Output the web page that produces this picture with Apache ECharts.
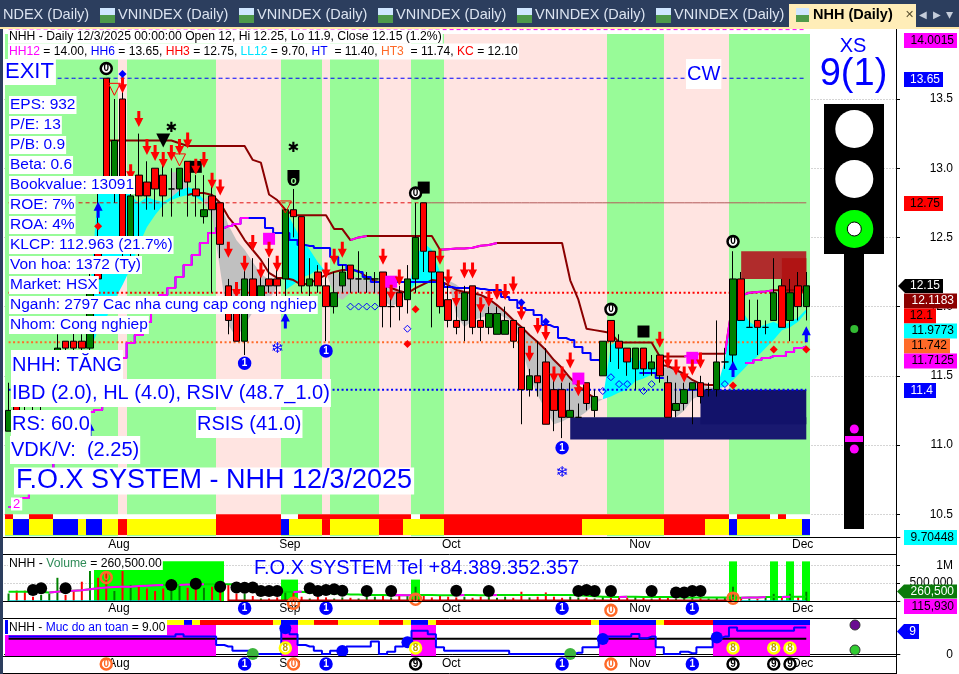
<!DOCTYPE html>
<html><head><meta charset="utf-8">
<style>html,body{margin:0;padding:0;background:#fff}#c{width:959px;height:674px}</style>
<script src="https://cdn.jsdelivr.net/npm/echarts@6/dist/echarts.min.js"></script>
</head><body><div id="c"></div>
<script>
const categories = ("07-16 07-17 07-18 07-21 07-22 07-23 07-24 07-25 07-28 07-29 07-30 07-31 08-01 08-04 08-05 08-06 08-07 08-08 08-11 08-12 08-13 08-14 08-15 08-18 08-19 08-20 08-21 08-22 08-25 08-26 08-27 08-28 08-29 09-03 09-04 09-05 09-08 09-09 09-10 09-11 09-12 09-15 09-16 09-17 09-18 09-19 09-22 09-23 09-24 09-25 09-26 09-29 09-30 10-01 10-02 10-03 10-06 10-07 10-08 10-09 10-10 10-13 10-14 10-15 10-16 10-17 10-20 10-21 10-22 10-23 10-24 10-27 10-28 10-29 10-30 10-31 11-03 11-04 11-05 11-06 11-07 11-10 11-11 11-12 11-13 11-14 11-17 11-18 11-19 11-20 11-21 11-24 11-25 11-26 11-27 11-28 12-01 12-02 12-03").split(" ");
const monthStarts = [12,33,53,76,96];
const monthLabels = ['Aug','Sep','Oct','Nov','Dec'];
const opens  = [11.1,11.3,11.35,11.35,11.3,11.4,11.65,11.75,11.75,11.75,11.7,12.4,13.65,12.85,13.5,12.45,12.95,12.9,13.0,12.95,12.85,12.85,13.05,12.85,12.65,12.8,12.75,12.15,12.0,11.75,12.2,12.05,12.2,12.2,12.2,12.7,12.65,12.15,12.25,12.15,12.0,12.15,12.3,12.2,12.2,12.2,12.25,12.0,12.1,12.05,12.2,12.75,12.4,12.25,12.05,11.9,11.9,12.15,11.9,11.85,11.8,11.8,11.9,11.85,11.4,11.5,11.6,11.4,11.4,11.2,11.2,11.45,11.25,11.5,11.9,11.75,11.7,11.55,11.7,11.55,11.65,11.45,11.25,11.3,11.4,11.45,11.4,11.4,11.6,11.65,12.2,11.85,11.9,11.85,11.9,12.15,11.9,12.15,12.0];
const closes = [11.25,11.25,11.3,11.3,11.4,11.5,11.7,11.7,11.7,11.7,12.15,12.2,12.9,13.2,12.4,12.8,12.8,12.8,12.85,12.8,12.85,13.0,12.9,12.8,12.7,12.7,12.45,11.9,11.75,12.2,12.05,12.15,12.15,12.15,12.7,12.65,12.15,12.2,12.15,12.0,12.1,12.25,12.2,12.2,12.2,12.2,12.0,12.0,12.0,12.2,12.5,12.4,12.25,12.0,11.9,11.85,12.1,11.85,11.85,11.95,11.95,11.9,11.75,11.4,11.5,11.45,11.15,11.25,11.2,11.25,11.2,11.3,11.35,11.75,11.75,11.7,11.6,11.7,11.55,11.6,11.5,11.2,11.3,11.4,11.45,11.35,11.4,11.6,11.6,12.2,11.9,11.85,11.85,11.85,12.1,11.85,12.1,12.0,12.15];
const lows   = [11.1,11.2,11.2,11.25,11.25,11.4,11.65,11.65,11.6,11.6,11.65,12.1,12.85,12.75,12.35,12.35,12.3,12.7,12.7,12.65,12.65,12.8,12.65,12.65,12.6,12.1,12.35,11.8,11.75,11.65,12.0,12.0,12.1,12.05,11.95,12.5,12.1,12.05,12.1,11.75,11.95,12.1,12.1,12.1,12.1,12.1,11.85,11.85,11.9,11.95,12.1,12.25,11.85,11.95,11.85,11.8,11.75,11.8,11.75,11.8,11.8,11.8,11.7,11.15,11.35,11.35,11.15,11.1,11.05,11.2,11.2,11.25,11.2,11.5,11.6,11.55,11.5,11.4,11.5,11.5,11.45,11.2,11.2,11.25,11.15,11.3,11.35,11.35,11.55,11.55,11.9,11.85,11.65,11.8,11.9,11.85,11.75,11.9,11.9];
const highs  = [11.45,11.4,11.45,11.45,11.45,11.6,11.8,11.75,11.85,11.8,12.3,12.85,13.65,13.5,13.6,12.9,13.25,13.05,13.0,13.05,13.0,13.0,13.05,12.95,12.95,12.9,12.75,12.2,12.1,12.3,12.35,12.3,12.35,12.3,12.7,12.85,12.65,12.35,12.3,12.25,12.25,12.3,12.3,12.4,12.25,12.25,12.25,12.1,12.15,12.3,12.75,12.75,12.4,12.25,12.15,12.05,12.15,12.15,12.05,12.0,12.0,12.0,11.9,11.85,11.55,11.75,11.7,11.5,11.45,11.45,11.3,11.45,11.4,11.75,11.9,11.8,11.7,11.7,11.7,11.65,11.65,11.5,11.45,11.45,11.45,11.5,11.45,11.9,11.7,12.4,12.25,12.05,12.05,11.9,12.35,12.2,12.2,12.25,12.25];

const upperTrail = [null,null,null,null,null,null,null,null,null,null,null,null,13.2,13.2,13.2,13.2,13.2,13.2,13.2,13.2,13.2,13.18,13.16,13.16,13.16,13.16,13.16,13.16,13.16,13.16,13.06,13.04,12.81,12.77,12.7,12.66,12.66,12.66,12.66,12.66,12.56,12.56,12.48,12.5,12.51,12.51,12.51,12.51,12.51,12.51,12.51,12.51,12.51,12.41,12.415,12.42,12.42,12.425,12.44,12.445,12.46,12.46,12.46,12.46,12.46,12.46,12.46,12.46,12.46,12.19,12.05,11.84,11.83,11.82,11.81,11.74,11.74,11.74,11.74,11.74,11.64,11.64,11.64,11.64,11.65,11.66,11.66,11.66,11.66,12.05,12.08,12.1,12.105,12.11,12.118,12.118,12.118,12.118,12.118];
const lowerTrail = [null,null,null,null,null,null,null,null,null,null,null,null,null,null,null,null,null,null,null,null,null,null,12.806,12.821,12.821,12.806,12.749,12.647,12.575,12.481,12.409,12.337,12.243,12.207,12.207,12.192,12.156,12.17,12.2,12.23,12.25,12.264,12.264,12.257,12.214,12.185,12.17,12.134,12.113,12.098,12.134,12.163,12.192,12.185,12.156,12.12,12.105,12.098,12.084,12.055,12.011,11.961,11.903,11.853,11.795,11.744,11.686,11.614,11.556,11.484,11.426,11.376,11.34,null,null,null,null,null,null,null,11.578,11.571,11.542,11.513,11.47,11.441,11.433,11.433,null,null,null,null,null,null,null,null,null,null,null];
const stepTrail = [10.552,10.581,10.617,10.675,10.733,10.805,10.87,10.95,11.036,11.13,11.238,11.253,11.361,11.506,11.629,11.737,11.795,11.889,11.975,12.084,12.134,12.214,12.3,12.373,12.46,12.532,12.568,12.582,12.597,12.64,12.64,12.64,12.568,12.532,12.532,12.481,12.445,12.438,12.423,12.423,12.358,12.3,12.264,12.25,12.214,12.178,12.178,12.178,12.178,12.178,12.178,12.178,12.178,12.17,12.142,12.134,12.134,12.134,12.127,12.12,12.12,12.07,12.048,11.99,11.975,11.94,11.867,11.853,11.773,11.759,11.708,11.665,11.614,11.6,null,null,null,null,11.52,11.52,11.484,null,null,null,11.4,11.4,null,null,null,null,null,11.592,11.614,11.629,11.643,11.643,11.672,11.7,11.7125];
const fillHi = [null,null,null,null,null,null,null,null,null,null,12.098,12.843,12.929,12.929,12.929,12.806,12.749,12.792,12.77,12.756,12.792,12.843,12.864,12.843,12.77,12.821,12.749,12.59,12.48,12.41,12.32,12.24,12.19,12.17,12.7,12.59,12.48,12.41,12.32,12.25,12.24,12.24,12.22,12.21,12.19,12.18,12.17,12.16,12.12,12.1,12.35,12.46,12.41,12.25,12.19,12.16,12.11,12.1,12.08,12.05,12.01,11.96,11.9,11.85,11.79,11.74,11.69,11.61,11.56,11.48,11.43,11.38,11.34,11.33,11.72,11.76,11.65,11.61,11.61,11.58,11.54,11.57,11.54,11.51,11.47,11.44,11.42,11.41,11.61,12.01,11.98,11.89,11.85,11.87,11.89,11.86,11.89,11.92,11.98];
const fillLo = [null,null,null,null,null,null,null,null,null,null,11.686,11.831,11.918,12.048,12.156,12.279,12.445,12.575,12.662,12.734,12.77,12.792,12.806,12.792,12.75,12.662,12.264,11.867,11.773,11.867,11.96,12.01,12.05,12.14,12.12,12.16,12.21,12.23,12.27,12.25,12.08,12.05,12.1,12.1,12.1,12.1,12.05,12.0,12.03,12.1,12.17,12.18,12.19,12.19,12.19,11.94,11.85,11.9,11.92,11.94,11.95,11.92,11.89,11.72,11.5,11.36,11.25,11.15,11.17,11.2,11.2,11.24,11.3,11.33,11.35,11.38,11.4,11.46,11.48,11.51,11.53,11.4,11.2,11.25,11.33,11.36,11.38,11.41,11.42,11.47,11.53,11.59,11.64,11.7,11.76,11.83,11.85,11.89,11.96];
const fillRuns = [[10,24,'c'],[24,33,'g'],[34,39,'c'],[39,49,'g'],[49,54,'c'],[54,73,'g'],[73,80,'c'],[80,87,'g'],[87,98,'c']];
const wedgeIdx = [20,21,22]; const wedgeHi = [12.97,12.97,12.88]; const wedgeLo = [12.79,12.84,12.86];

const zoneRuns = [[0,14,'g'],[14,15,'p'],[15,26,'g'],[26,34,'p'],[34,39,'g'],[39,40,'p'],[40,46,'g'],[46,50,'p'],[50,54,'g'],[54,74,'p'],[74,81,'g'],[81,89,'p'],[89,99,'g']];
const stripBaseRuns = [[0,99]];
const stripTopRuns = [[0,1,'r'],[3,6,'r'],[26,34,'r'],[36,50,'r'],[51,89,'r'],[90,94,'r'],[95,96,'r']];
const stripMainRuns = [[0,1,'y'],[1,3,'b'],[3,6,'y'],[6,9,'b'],[9,10,'y'],[10,12,'b'],[12,14,'y'],[14,15,'r'],[15,26,'y'],[26,34,'r'],[34,35,'b'],[35,39,'y'],[39,40,'r'],[40,46,'y'],[46,49,'r'],[49,54,'y'],[54,71,'r'],[71,81,'y'],[81,86,'r'],[86,89,'y'],[89,90,'b'],[90,98,'y'],[98,99,'b']];
const safetyStripRuns = [[20,22,'y'],[22,23,'b'],[23,24,'y'],[24,33,'r'],[33,34,'y'],[34,36,'b'],[36,38,'y'],[38,41,'r'],[41,46,'y'],[46,49,'r'],[49,50,'y'],[50,52,'b'],[52,53,'y'],[53,72,'r'],[72,73,'y'],[73,80,'b'],[80,81,'y'],[81,87,'r'],[87,99,'b']];
const safetyZoneRuns = [[0,20,7.4],[20,26,11.3],[34,36,11.3],[50,53,11.3],[73,80,11.3],[87,99,11.3]];
const volZoneRuns = [[11,27,1110000],[34,36,600000],[50,51,600000],[89,90,1110000],[94,95,1110000],[96,97,1110000],[98,99,1110000]];

const boxFrom = [69,85,90,95]; const boxTo = [98,98,98,98];
const boxHigh = [11.2,11.4,12.4,12.35]; const boxLow = [11.04,11.15,12.2,12.1];
const boxColors = ['#191970','#12126a','#b02c2c','#b01414'];

const levelValues = [14.0015,13.65,12.75,12.75,12.1,11.742,11.4];
const levelFrom   = [0,0,0,51,0,0,0];
const levelTo     = [98,98,51,98,98,98,98];
const levelColors = ['#ff00ff','#0000ff','#e01010','#b25a5a','#ff0000','#ff6a28','#0000ff'];

const downIdx = [14,16,17,18,19,20,21,22,23,24,25,26,15,27,29,30,31,32,33,28,39,40,41,46,47,48,53,54,55,56,57,58,59,60,61,62,63,64,65,66,67,68,69,70,80,81,82,83,84,85];
const downVal = [13.6,13.355,13.153,13.11,13.06,13.11,13.153,13.2,13.01,13.06,12.91,12.86,12.97,12.41,12.31,12.46,12.26,12.41,12.31,12.12,12.26,12.36,12.41,12.36,12.1,12.21,12.36,12.21,12.055,12.26,12.26,12.01,12.055,12.105,12.105,12.16,11.96,11.66,11.86,11.81,11.51,11.51,11.61,11.41,11.76,11.61,11.56,11.51,11.56,11.61];
const upIdx = [11,34,89,98,10]; const upVal = [12.7,11.9,11.55,11.8,11.11];
const redDotIdx = [11,50,49,89,94,98]; const redDotVal = [12.58,11.98,11.73,11.43,11.69,11.69];
const openIdx = [42,43,44,45,49,73,74,75,76,78,79,88]; const openVal = [12,12,12,12,11.84,11.39,11.49,11.44,11.44,11.39,11.44,11.44];
const blueDotIdx = [14,63,66]; const blueDotVal = [13.68,12.03,11.89];
const pinkSqIdx = [32,47,70,84]; const pinkSqVal = [12.49,12.18,11.48,11.63];
const blackSqIdx = [23,51,78]; const blackSqVal = [13.01,12.86,11.82];
const outTriIdx = [13,21,34]; const outTriVal = [13.57,13.06,12.72];
const starIdx = [20,35]; const starVal = [13.29,13.14];
const ring0Idx = [12,50,74,89]; const ring0Val = [13.72,12.82,11.98,12.47];
const blue1Idx = [29,39,68]; const blue1Val = [11.59,11.68,10.98];
const snowIdx = [33,68]; const snowVal = [11.69,10.8];

const volumes = [210000,290000,290000,120000,170000,210000,650000,170000,310000,540000,840000,650000,820000,280000,840000,450000,420000,350000,280000,350000,400000,450000,370000,450000,370000,400000,450000,450000,210000,210000,140000,70000,70000,100000,260000,260000,120000,70000,120000,100000,70000,100000,90000,70000,170000,120000,140000,100000,140000,170000,400000,170000,100000,140000,120000,100000,120000,90000,120000,110000,90000,120000,90000,260000,100000,120000,240000,120000,90000,120000,100000,90000,70000,120000,100000,110000,90000,130000,100000,70000,110000,90000,70000,120000,100000,80000,70000,90000,110000,400000,90000,70000,60000,90000,200000,100000,200000,110000,260500];
const volAverage = [260000,260000,260000,260000,250000,240000,260000,280000,290000,300000,330000,360000,380000,390000,400000,400000,420000,430000,440000,450000,450000,450000,460000,460000,470000,470000,470000,470000,460000,420000,380000,330000,290000,260000,260000,250000,260000,240000,240000,220000,220000,200000,180000,180000,170000,170000,170000,160000,170000,160000,170000,170000,170000,160000,160000,160000,170000,170000,160000,160000,170000,170000,170000,170000,170000,170000,170000,170000,170000,170000,160000,150000,130000,120000,110000,110000,120000,120000,110000,110000,110000,110000,110000,100000,100000,100000,100000,100000,100000,90000,90000,100000,100000,110000,110000,110000,120000,116000,115930];
const volDotIdx = [3,4,7,20,23,26,28,29,30,31,32,33,37,38,39,40,41,44,47,55,59,70,71,72,74,79,82,83,84,85];
const volDotVal = [310000,360000,360000,450000,480000,400000,380000,370000,380000,280000,280000,280000,360000,280000,310000,330000,290000,280000,280000,290000,280000,280000,310000,280000,280000,280000,240000,240000,280000,280000];
const volBlue1Idx = [29,39,68,84];
const volOrangeIdx = [12,50,89,35,74]; const volOrangeVal = [660000,50000,80000,-65000,-260000];

const safety = [6.8,6.8,6.8,6.8,6.8,6.8,6.8,6.8,6.8,6.8,6.8,6.8,6.8,6.8,6.8,6.8,6.8,6.8,6.8,6.8,6.8,7.7,6.8,6.8,6.8,6.8,3.6,3,1.4,1.4,0.1,0.1,0.1,0.1,9.4,7.7,3.6,3,1.4,0.1,1.4,1.4,3,3,3,4.9,0.1,1,3,4.6,9.1,9.1,7.7,2.7,1.4,1.4,1.4,1.4,1.4,1.4,1.4,1.4,0.1,0.1,0.1,0.1,0.1,0.1,0.1,0.1,0.6,2.7,2.7,6.8,6.8,6.8,6.8,7.8,6.2,6.8,2.7,0.1,0.1,1,0.4,2.7,2.7,6.2,6.8,10.3,9.1,9.1,9.1,9.1,9.1,9.1,9.1,10.3,10.3];
const safetyMid = 6;
const safeBlueIdx = [34,41,49,73,87]; const safeBlueVal = [10,1.3,4.6,5.9,6.5];
const safeGreenIdx = [30,69]; const safeGreenVal = [0.1,0.1];
const safe9Idx = [50,89,94,96];
const safe8Idx = [34,50,89,94,96];
const safe0Idx = [12,35,74];
const safe1Idx = [29,39,68,84];

const infoLabels = ['EPS: 932','P/E: 13','P/B: 0.9','Beta: 0.6','Bookvalue: 13091','ROE: 7%','ROA: 4%','KLCP: 112.963 (21.7%)','Von hoa: 1372 (Ty)','Market: HSX','Nganh: 2797 Cac nha cung cap cong nghiep','Nhom: Cong nghiep'];

const FONT = '"Liberation Sans", Arial, sans-serif';
const C = {g:'#98fb98', p:'#ffe4e1', r:'#ff0000', y:'#ffff00', b:'#0000ff', c:'#00ffff', h:'#c0c0c0'};
const N = 110;
const xData = categories.concat(Array(N-categories.length).fill(''));

function runRects(name, runs, yTop, yBot, color, gi, z){
  return {name, type:'custom', xAxisIndex:gi, yAxisIndex:gi, z, silent:true,
    data:runs.map(r=>[r[0], yTop]), encode:{x:0,y:1},
    renderItem(p, api){
      const r=runs[p.dataIndex], w=api.size([1,0])[0];
      const top = typeof r[2]==='number' ? r[2] : yTop;
      const a=api.coord([r[0],top]), b=api.coord([r[1],yBot]);
      const x0=Math.round(a[0]-w/2), x1=Math.round(b[0]-w/2);
      return {type:'rect', shape:{x:x0,y:a[1],width:x1-x0,height:b[1]-a[1]}, style:{fill: typeof color==='string'?color:C[r[2]]}};
    }};
}
function fillSeries(){
  return {name:'fill', type:'custom', z:2, silent:true,
    data:fillRuns.map(r=>[r[0], fillHi[r[0]]]), encode:{x:0,y:1},
    renderItem(p, api){
      const r=fillRuns[p.dataIndex], pts=[];
      for(let i=r[0];i<=r[1];i++) pts.push(api.coord([i,fillHi[i]]));
      for(let i=r[1];i>=r[0];i--) pts.push(api.coord([i,fillLo[i]]));
      return {type:'polygon', shape:{points:pts}, style:{fill:r[2]==='c'?C.c:C.h}};
    }};
}
function wedgeSeries(){
  return {name:'wedge', type:'custom', z:2, silent:true, data:[[wedgeIdx[0],wedgeHi[0]]], encode:{x:0,y:1},
    renderItem(p, api){
      const pts=wedgeIdx.map((i,k)=>api.coord([i,wedgeHi[k]])).concat(wedgeIdx.map((i,k)=>api.coord([i,wedgeLo[k]])).reverse());
      return {type:'polygon', shape:{points:pts}, style:{fill:C.h}};
    }};
}
function boxSeries(){
  return {name:'boxes', type:'custom', z:3, silent:true, data:boxFrom.map((f,k)=>[f,boxHigh[k]]), encode:{x:0,y:1},
    renderItem(p, api){
      const k=p.dataIndex, a=api.coord([boxFrom[k],boxHigh[k]]), b=api.coord([boxTo[k],boxLow[k]]);
      return {type:'rect', shape:{x:a[0],y:a[1],width:b[0]-a[0],height:b[1]-a[1]}, style:{fill:boxColors[k]}};
    }};
}
function levelSeries(k){
  const d=categories.map((_,i)=>(i>=levelFrom[k]&&i<=levelTo[k])?levelValues[k]:null);
  const solid=k===3, heavy=k>=4;
  return {name:'level'+k, type:'line', data:d, symbol:'none', z:4, silent:true,
    lineStyle:{color:levelColors[k], width:heavy?2:1, type:solid?'solid':(heavy?[2,2.5]:[4,3])}};
}
function riseOnly(v){ return v.map((x,i)=>{
  if(x==null) return null;
  const r=i>0&&v[i-1]!=null&&x>v[i-1], n=i<v.length-1&&v[i+1]!=null&&v[i+1]>x;
  return (r||n)?x:null; }); }
function lineS(name,data,color,gi,z,extra){
  return Object.assign({name, type:'line', data, symbol:'none', xAxisIndex:gi, yAxisIndex:gi, z, silent:true, lineStyle:{color, width:2}},extra||{});
}
function sc(name, idx, vals, symbol, size, style, gi, z, extra){
  return Object.assign({name, type:'scatter', clip:false, silent:true, xAxisIndex:gi||0, yAxisIndex:gi||0, z:z||8, symbol, symbolSize:size,
    data:idx.map((i,k)=>[i,vals[k]]), itemStyle:Object.assign({opacity:1},style)}, extra||{});
}
function badge(name, idx, vals, txt, fill, border, txtColor, gi, z){
  return sc(name, idx, vals, 'circle', 11, {color:fill, borderColor:border, borderWidth:2.5}, gi, z||9,
    {label:{show:true, position:'inside', formatter:txt, color:txtColor, fontSize:10, fontWeight:'bold', fontFamily:FONT}});
}
const DOWN='path://M3,0 H6 V7 H9 L4.5,16 L0,7 H3 Z';
const UP='path://M4.5,0 L9,9 H6 V16 H3 V9 H0 Z';
const CLEAR='rgba(255,255,255,0)';

const series=[
  runRects('zones',zoneRuns,13.97,10.34,null,0,1),
  runRects('stripBase',stripBaseRuns,10.5,10.465,'#ffffff',0,2),
  runRects('stripTop',stripTopRuns,10.5,10.465,C.r,0,2),
  runRects('stripMain',stripMainRuns,10.465,10.35,null,0,2),
  fillSeries(), wedgeSeries(), boxSeries(),
  ...levelValues.map((_,k)=>levelSeries(k)),
  lineS('upperTrail',upperTrail,'#8b0000',0,5),
  lineS('upperRise',riseOnly(upperTrail),'#ff00ff',0,5),
  lineS('lowerTrail',lowerTrail,'#8b0000',0,5),
  lineS('stepTrail',stepTrail,'#0000ff',0,5,{step:'middle'}),
  lineS('stepRise',riseOnly(stepTrail),'#ff00ff',0,5,{step:'middle'}),
  {name:'NHH', type:'candlestick', z:6, barWidth:7, silent:true,
   data:opens.map((o,i)=>[o,closes[i],lows[i],highs[i]]),
   itemStyle:{color:'#008000',color0:'#ff0000',borderColor:'#000',borderColor0:'#000',borderColorDoji:'#000',borderWidth:1}},
  sc('blackSq',blackSqIdx,blackSqVal,'rect',12,{color:'#000'},0,7),
  sc('pinkSq',pinkSqIdx,pinkSqVal,'rect',12,{color:'#ff00ff'},0,7),
  sc('blackTri',[19],[13.2],'triangle',14,{color:'#000'},0,7,{symbolRotate:180}),
  sc('outTri',outTriIdx,outTriVal,'triangle',12,{color:CLEAR,borderColor:'#ff0000',borderWidth:1},0,8,{symbolRotate:180}),
  sc('down',downIdx,downVal,DOWN,[9,16],{color:'#ff0000'},0,8),
  sc('up',upIdx,upVal,UP,[9,16],{color:'#0000ff'},0,8),
  sc('redDot',redDotIdx,redDotVal,'diamond',8,{color:'#ff0000'},0,8),
  sc('openMark',openIdx,openVal,'diamond',7,{color:CLEAR,borderColor:'#0000ff',borderWidth:1},0,8),
  sc('blueDot',blueDotIdx,blueDotVal,'diamond',8,{color:'#0000ff'},0,8),
  sc('star',starIdx,starVal,'circle',2,{color:CLEAR},0,9,{label:{show:true,position:'inside',formatter:'✱',color:'#000',fontSize:14,fontFamily:'"DejaVu Sans"'}}),
  sc('shield',[35],[12.93],'path://M0,0 H12 V10 A6,6 0 0 1 0,10 Z',[12,16],{color:'#000'},0,9,{label:{show:true,position:'inside',offset:[0,3],formatter:'o',color:'#98fb98',fontSize:10,fontWeight:'bold',fontFamily:FONT}}),
  sc('snow',snowIdx,snowVal,'circle',2,{color:CLEAR},0,9,{label:{show:true,position:'inside',formatter:'❄',color:'#0000ff',fontSize:15,fontFamily:'"DejaVu Sans"'}}),
  badge('ring0',ring0Idx,ring0Val,'0','#ffffff','#000000','#000000',0),
  badge('blue1',blue1Idx,blue1Val,'1','#0000ff','#0000ff','#ffffff',0),

  runRects('volZones',volZoneRuns,1110000,0,'#00ff00',1,1),
  {name:'Volume', type:'bar', xAxisIndex:1, yAxisIndex:1, z:3, silent:true, barWidth:2,
   data:volumes.map((v,i)=>({value:v,itemStyle:{color:closes[i]>=opens[i]?'#008000':'#ff0000'}}))},
  lineS('volAvg',volAverage,'#00e000',1,4),
  lineS('volAvgRise',riseOnly(volAverage),'#ff00ff',1,4),
  lineS('volBase',categories.map((_,i)=>(i>=27&&i<=89)?12000:null),'#b00000',1,4),
  lineS('volBase2',categories.map((_,i)=>(i<27||i>89)?8000:null),'#00c8c8',1,4,{lineStyle:{color:'#00c8c8',width:1}}),
  sc('volDots',volDotIdx,volDotVal,'circle',12,{color:'#000'},1,6),
  badge('volBlue1',volBlue1Idx,volBlue1Idx.map(()=>-200000),'1','#0000ff','#0000ff','#ffffff',1),
  badge('volOrange',volOrangeIdx,volOrangeVal,'0',CLEAR,'#ff6a28','#ff6a28',1),

  runRects('safetyZones',safetyZoneRuns,11.3,-0.65,'#ff00ff',2,1),
  runRects('safetyStrip',safetyStripRuns,13.2,11.3,null,2,2),
  lineS('safetyMid',categories.map(()=>safetyMid),'#000',2,3),
  lineS('safety',safety,'#0000ff',2,4,{step:'middle'}),
  sc('safeBlue',safeBlueIdx,safeBlueVal,'circle',12,{color:'#0000ff'},2,6),
  sc('safeGreen',safeGreenIdx,safeGreenVal,'circle',12,{color:'#3cb43c'},2,6),
  badge('safe8',safe8Idx,safe8Idx.map(()=>2.4),'8','#ffffff','#ffff00','#c0a000',2),
  badge('safe9',safe9Idx,safe9Idx.map(()=>-3.7),'9','#ffffff','#000000','#000000',2),
  badge('safe0',safe0Idx,safe0Idx.map(()=>-3.7),'0','#ffffff','#ff6a28','#ff6a28',2),
  badge('safe1',safe1Idx,safe1Idx.map(()=>-3.7),'1','#0000ff','#0000ff','#ffffff',2),
];

function xAxis(gi){
  return {type:'category', gridIndex:gi, data:xData, boundaryGap:true,
    axisLine:{lineStyle:{color:'#000',width:1}},
    axisTick:{alignWithLabel:true,length:4,lineStyle:{color:'#000'},interval:(i)=>monthStarts.includes(i)},
    axisLabel:{interval:(i)=>monthStarts.includes(i),formatter:(v,i)=>monthLabels[monthStarts.indexOf(i)]||'',
      color:'#000',fontSize:12,fontFamily:FONT,align:'left',margin:2,padding:[0,0,0,2]},
    splitLine:{show:false}};
}
function yAxis(gi,min,max,ticks,fmt){
  return {type:'value', gridIndex:gi, position:'right', offset:-3.9, min, max, scale:true,
    axisLine:{show:true,onZero:false,lineStyle:{color:'#000',width:1}},
    axisTick:{show:true,length:4,customValues:ticks,lineStyle:{color:'#000'}},
    axisLabel:{customValues:ticks,color:'#000',fontSize:12,fontFamily:FONT,align:'right',margin:57,formatter:fmt},
    splitLine:{show:true,lineStyle:{color:'#aaaaaa',type:[1,2],width:1}}};
}

const G=[];
function rect(x,y,w,h,fill,z){G.push({type:'rect',z:z||100,silent:true,shape:{x,y,width:w,height:h},style:{fill}});}
function hline(x0,x1,y){G.push({type:'line',z:100,silent:true,shape:{x1:x0,y1:y,x2:x1,y2:y},style:{stroke:'#000',lineWidth:1}});}
function text(t,x,y,font,fill,bg,pad,extra){
  G.push({type:'text',z:(extra&&extra.z)||110,silent:true,x,y,style:Object.assign({text:t,font:font+' '+FONT,fill,backgroundColor:bg,padding:pad,verticalAlign:'middle',align:(extra&&extra.align)||'left'},extra&&extra.rich?{rich:extra.rich}:{})});
}
function circle(cx,cy,r,fill,stroke){G.push({type:'circle',z:102,silent:true,shape:{cx,cy,r},style:{fill,stroke:stroke||null,lineWidth:stroke?1:0}});}

// chrome
rect(0,0,959,27,'#2c3e5e',99); rect(0,27,959,2,'#ffe8a8',99); rect(0,29,3,645,'#2c3e5e',99);
const tabX=[118,257,396,535,674];
text('NDEX (Daily)',3,15,'14.5px','#dbe3f0');
tabX.forEach(x=>{rect(x-18,8,15,7,'#cfe6ff',101);rect(x-18,15,15,8,'#4f9a4a',101);text('VNINDEX (Daily)',x,15,'14.5px','#dbe3f0');});
rect(789,4,127,25,'#ffedb8',100);
rect(796,8,13,7,'#cfe6ff',101);rect(796,15,13,7,'#4f9a4a',101);
text('NHH (Daily)',813,15,'bold 14.5px','#000');
text('✕',905,15,'11px','#5a5030');
text('◀',919,15,'10px','#c4ccda');text('▶',933,15,'10px','#c4ccda');text('▾',946,15,'14px','#c4ccda');

// panel rules
[537,554,601,618,656,673].forEach(y=>hline(3,896,y+.5));
G.push({type:'line',z:100,silent:true,shape:{x1:896.5,y1:29,x2:896.5,y2:674},style:{stroke:'#000',lineWidth:1}});

// header lines
text('NHH - Daily 12/3/2025 00:00:00 Open 12, Hi 12.25, Lo 11.9, Close 12.15 (1.2%)',8,36.5,'12.2px','#000','#fff',[1,1,1,1]);
const R=(k,c)=>({[k]:{fill:c,font:'12.1px '+FONT}});
text('{m|HH12} = 14.00, {b|HH6} = 13.65, {r|HH3} = 12.75, {c|LL12} = 9.70, {b|HT}  = 11.40, {o|HT3}  = 11.74, {r|KC} = 12.10',8,51.5,'12.1px','#000','#fff',[2,1,2,1],
  {rich:Object.assign({},R('m','#ff00ff'),R('b','#0000ff'),R('r','#ff0000'),R('c','#00e5ff'),R('o','#ff6a28'))});

// info panel
text('EXIT',5,72,'22px','#0000ff','#fff',[2,2,2,0]);
infoLabels.forEach((t,k)=>text(t,9,105+20*k,'15.5px','#0000ff','#fff',[1,1,1,1]));
text('NHH: TĂNG',11,365,'20px','#0000ff','#fff',[5,1,5,1]);
text('IBD (2.0), HL (4.0), RSIV (48.7_1.0)',11,393,'20px','#0000ff','#fff',[4,1,4,1]);
text('RS: 60.0',11,424,'20px','#0000ff','#fff',[4,1,4,1]);
text('RSIS (41.0)',196,424,'20px','#0000ff','#fff',[4,1,4,1]);
text('VDK/V:  (2.25)',10,450,'20px','#0000ff','#fff',[4,1,4,1]);
text('F.O.X SYSTEM - NHH 12/3/2025',14,481,'27px','#0000ff','#fff',[0,2,0,2]);
text('2',11,504,'13px','#ff00ff','#fff',[0,2,0,2]);
text('CW',686,74,'20px','#0000ff','#fff',[5,1,5,1]);

// traffic light
text('XS',853,46,'20px','#0000ff',null,null,{align:'center'});
text('9(1)',853.5,75,'38px','#0000ff',null,null,{align:'center'});
rect(824,104,60,150,'#000',101); rect(844,254,20,275,'#000',101);
circle(854.3,129,19,'#fff');circle(854.3,179,19,'#fff');circle(854.3,229,19,'#00ff00');circle(854.3,229,7,'#fff','#000');
circle(854.3,329,4,'#33bb33');circle(854.3,429,4.5,'#ff00ff');rect(845,436,18,6,'#ff00ff',102);circle(854.3,449,4.5,'#ff00ff');

// right value tags
const tags=[['14.0015','#ff00ff','#000',904,53,40.5],['13.65','#0000ff','#fff',904,39,79.5],['12.75','#ff0000','#000',904,39,203.5],
 ['12.1183','#8b0000','#fff',904,53,301],['12.1','#ff0000','#000',904,32,316],['11.9773','#00ffff','#000',904,53,331],['11.742','#ff6a28','#000',904,46,346],['11.7125','#ff00ff','#000',904,53,361],['11.4','#0000ff','#fff',904,32,390.5],['9.70448','#00ffff','#000',904,53,537.5],['115,930','#ff00ff','#000',904,53,606.5]];
tags.forEach(t=>{rect(t[3],t[5]-7.5,t[4],15,t[1],103);text(t[0],t[3]+t[4]-3,t[5],'12px',t[2],null,null,{align:'right',z:111});});
function arrowTag(txt,x0,x1,y,h,fill,tc){
  G.push({type:'polygon',z:103,silent:true,shape:{points:[[x0,y],[x0+7,y-h/2],[x1,y-h/2],[x1,y+h/2],[x0+7,y+h/2]]},style:{fill}});
  text(txt,x1-3,y,'12px',tc,null,null,{align:'right',z:111});
}
arrowTag('12.15',898,943,286,14,'#000','#fff');
arrowTag('260,500',897,957,591.5,14,'#0b7a0b','#fff');
arrowTag('9',897,919,631.5,15,'#0000ff','#fff');

// lower panel titles
text('NHH - {g|Volume} = 260,500.00',8,564,'12.2px','#000','#fff',[0,1,0,1],{rich:{g:{fill:'#2e8b57',font:'12.2px '+FONT}}});
text('F.O.X SYSTEM Tel +84.389.352.357',254,568,'20px','#0000ff');
text('NHH - {b|Muc do an toan} = 9.00',8,628,'12px','#000','#fff',[0,1,0,1],{rich:{b:{fill:'#0000ff',font:'12px '+FONT}}});
rect(5,620,3,14,'#0000ff',101);
circle(855,625,5,'#6a0d91','#333');circle(855,650,5,'#32cd32','#333');

const chart=echarts.init(document.getElementById('c'),null,{renderer:'canvas'});
chart.setOption({
  animation:false, backgroundColor:'#fff', tooltip:{show:false}, legend:{show:false},
  grid:[
    {left:4.5,width:895.4,top:29,height:508},
    {left:4.5,width:895.4,top:554,height:47},
    {left:4.5,width:895.4,top:618,height:38}
  ],
  xAxis:[xAxis(0),xAxis(1),xAxis(2)],
  yAxis:[
    yAxis(0,10.3353,14.0058,[10.5,11,11.5,12,12.5,13,13.5],v=>Number(v).toFixed(1)),
    yAxis(1,0,1316500,[500000,1000000],v=>v>=1000000?'1M':'500,000'),
    yAxis(2,-0.65,13.96,[0],v=>String(v))
  ],
  series, graphic:{elements:G}
});
</script></body></html>
